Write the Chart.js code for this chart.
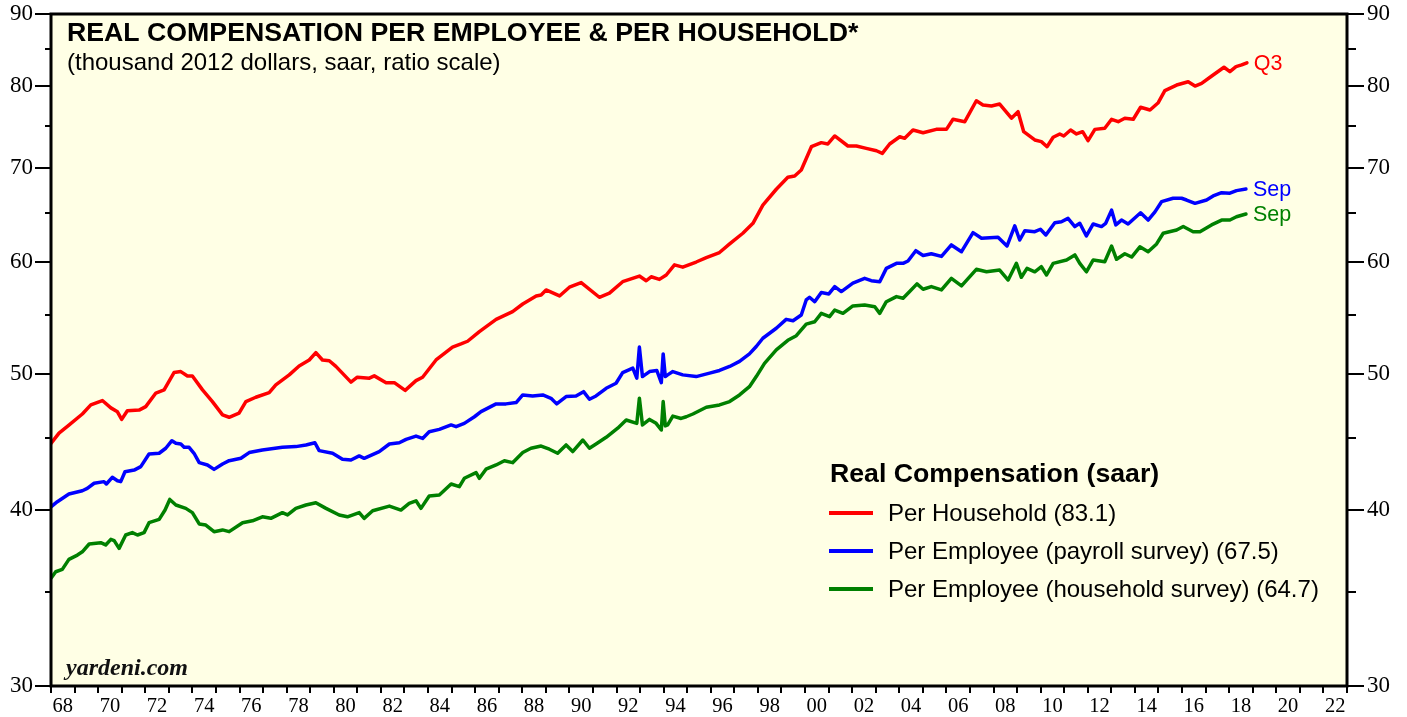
<!DOCTYPE html>
<html>
<head>
<meta charset="utf-8">
<title>Real Compensation per Employee & per Household</title>
<script src="https://cdn.jsdelivr.net/npm/chart.js@4.4.0/dist/chart.umd.min.js"></script>
<style>
  body { margin: 0; background: #fff; }
  #wrap { width: 1407px; height: 717px; }
</style>
</head>
<body>
<div id="wrap"><canvas id="chart" width="1407" height="717"></canvas></div>
<script>
// Per household, quarterly (thousand 2012 dollars)
const redYears = [1968.0, 1968.34, 1968.76, 1969.33, 1969.69, 1970.18, 1970.54, 1970.82, 1971.0, 1971.24, 1971.74, 1972.02, 1972.45, 1972.8, 1973.22, 1973.51, 1973.79, 1974.0, 1974.43, 1974.85, 1975.28, 1975.56, 1975.98, 1976.27, 1976.69, 1977.26, 1977.54, 1978.11, 1978.53, 1978.96, 1979.24, 1979.52, 1979.81, 1980.09, 1980.73, 1981.0, 1981.51, 1981.72, 1982.22, 1982.57, 1983.03, 1983.49, 1983.77, 1984.34, 1985.04, 1985.4, 1985.68, 1986.18, 1986.89, 1987.59, 1988.02, 1988.59, 1988.8, 1989.01, 1989.58, 1990.0, 1990.5, 1991.27, 1991.7, 1992.26, 1992.97, 1993.26, 1993.47, 1993.82, 1994.11, 1994.46, 1994.81, 1995.38, 1995.81, 1996.37, 1996.8, 1997.36, 1997.79, 1998.21, 1998.78, 1999.27, 1999.56, 1999.84, 2000.27, 2000.69, 2000.97, 2001.26, 2001.82, 2002.18, 2002.6, 2003.03, 2003.28, 2003.59, 2004.02, 2004.23, 2004.58, 2005.01, 2005.57, 2006.0, 2006.28, 2006.78, 2007.27, 2007.55, 2007.91, 2008.26, 2008.76, 2009.04, 2009.28, 2009.75, 2010.03, 2010.27, 2010.53, 2010.81, 2010.98, 2011.27, 2011.52, 2011.78, 2012.01, 2012.3, 2012.72, 2013.01, 2013.29, 2013.57, 2013.93, 2014.24, 2014.64, 2014.99, 2015.27, 2015.77, 2016.26, 2016.55, 2016.83, 2017.26, 2017.78, 2018.03, 2018.29, 2018.53, 2018.75];
const redValues = [44.61, 45.36, 45.96, 46.8, 47.5, 47.84, 47.27, 46.97, 46.39, 47.05, 47.1, 47.37, 48.43, 48.68, 50.08, 50.16, 49.8, 49.8, 48.68, 47.76, 46.73, 46.55, 46.86, 47.76, 48.1, 48.47, 49.08, 49.89, 50.62, 51.12, 51.74, 51.12, 51.06, 50.59, 49.3, 49.7, 49.62, 49.81, 49.26, 49.26, 48.64, 49.42, 49.7, 51.12, 52.21, 52.48, 52.71, 53.55, 54.63, 55.33, 56.02, 56.76, 56.85, 57.32, 56.76, 57.58, 58.02, 56.64, 57.02, 58.1, 58.64, 58.19, 58.57, 58.32, 58.74, 59.72, 59.5, 60.0, 60.43, 60.94, 61.8, 62.89, 63.92, 65.85, 67.58, 68.91, 69.06, 69.74, 72.45, 72.93, 72.77, 73.73, 72.53, 72.53, 72.25, 71.97, 71.66, 72.77, 73.64, 73.45, 74.45, 74.12, 74.53, 74.53, 75.77, 75.47, 78.1, 77.56, 77.43, 77.68, 75.9, 76.72, 74.25, 73.25, 73.05, 72.45, 73.57, 73.97, 73.73, 74.45, 73.97, 74.25, 73.17, 74.53, 74.66, 75.77, 75.47, 75.9, 75.77, 77.27, 76.93, 77.85, 79.41, 80.13, 80.57, 80.0, 80.36, 81.33, 82.5, 81.91, 82.58, 82.81, 83.1];

// Per employee, payroll survey, monthly
const blueYears = [1968.0, 1968.27, 1968.76, 1969.33, 1969.54, 1969.83, 1970.25, 1970.35, 1970.6, 1970.82, 1970.96, 1971.14, 1971.53, 1971.81, 1972.16, 1972.59, 1972.87, 1973.13, 1973.3, 1973.51, 1973.65, 1973.86, 1974.07, 1974.29, 1974.64, 1974.92, 1975.28, 1975.56, 1976.06, 1976.41, 1976.97, 1977.82, 1978.39, 1978.82, 1979.2, 1979.38, 1979.95, 1980.37, 1980.73, 1981.08, 1981.29, 1981.93, 1982.36, 1982.78, 1983.07, 1983.49, 1983.77, 1984.05, 1984.48, 1984.98, 1985.19, 1985.54, 1985.97, 1986.25, 1986.89, 1987.31, 1987.74, 1988.02, 1988.44, 1988.87, 1989.22, 1989.46, 1989.86, 1990.28, 1990.6, 1990.85, 1991.13, 1991.56, 1991.98, 1992.26, 1992.69, 1992.86, 1992.97, 1993.1, 1993.4, 1993.71, 1993.9, 1993.98, 1994.07, 1994.17, 1994.39, 1994.81, 1995.38, 1995.95, 1996.37, 1996.8, 1997.22, 1997.64, 1997.93, 1998.21, 1998.78, 1999.2, 1999.49, 1999.84, 2000.05, 2000.19, 2000.41, 2000.69, 2001.01, 2001.26, 2001.54, 2002.03, 2002.53, 2002.81, 2003.17, 2003.45, 2003.88, 2004.16, 2004.37, 2004.7, 2005.01, 2005.36, 2005.79, 2006.21, 2006.64, 2007.13, 2007.49, 2008.19, 2008.57, 2008.9, 2009.11, 2009.33, 2009.75, 2009.99, 2010.22, 2010.6, 2010.88, 2011.16, 2011.45, 2011.66, 2011.94, 2012.23, 2012.58, 2012.76, 2013.01, 2013.19, 2013.43, 2013.71, 2014.24, 2014.56, 2014.85, 2015.13, 2015.62, 2015.98, 2016.19, 2016.55, 2017.04, 2017.32, 2017.68, 2018.03, 2018.31, 2018.71];
const blueValues = [40.21, 40.55, 41.06, 41.28, 41.44, 41.79, 41.9, 41.74, 42.2, 41.96, 41.9, 42.58, 42.7, 42.94, 43.84, 43.89, 44.25, 44.8, 44.61, 44.56, 44.32, 44.32, 43.89, 43.22, 43.06, 42.75, 43.13, 43.36, 43.53, 43.94, 44.13, 44.32, 44.37, 44.49, 44.65, 44.08, 43.89, 43.46, 43.41, 43.7, 43.53, 44.01, 44.56, 44.65, 44.9, 45.14, 44.97, 45.46, 45.64, 45.97, 45.84, 46.09, 46.59, 46.98, 47.58, 47.58, 47.68, 48.28, 48.2, 48.28, 48.02, 47.58, 48.15, 48.2, 48.54, 47.94, 48.2, 48.81, 49.21, 50.08, 50.44, 49.62, 52.21, 49.75, 50.16, 50.25, 49.26, 51.63, 49.75, 49.89, 50.16, 49.89, 49.75, 50.03, 50.25, 50.58, 51.0, 51.63, 52.26, 52.97, 53.84, 54.63, 54.51, 55.02, 56.39, 56.64, 56.23, 57.08, 56.95, 57.64, 57.17, 57.96, 58.42, 58.2, 58.1, 59.38, 59.87, 59.87, 60.1, 61.12, 60.64, 60.82, 60.55, 61.7, 61.02, 62.95, 62.37, 62.48, 61.59, 63.65, 62.2, 63.15, 63.05, 63.3, 62.71, 63.98, 64.08, 64.44, 63.58, 63.92, 62.61, 63.85, 63.58, 63.92, 65.31, 63.75, 64.26, 63.85, 65.03, 64.26, 65.13, 66.22, 66.59, 66.59, 66.4, 66.04, 66.4, 66.84, 67.2, 67.14, 67.43, 67.6];

// Per employee, household survey, monthly
const greenYears = [1968.0, 1968.2, 1968.48, 1968.76, 1969.12, 1969.33, 1969.62, 1970.11, 1970.32, 1970.54, 1970.68, 1970.89, 1971.17, 1971.45, 1971.67, 1971.95, 1972.16, 1972.59, 1972.84, 1973.04, 1973.3, 1973.72, 1974.0, 1974.29, 1974.57, 1974.92, 1975.28, 1975.56, 1976.13, 1976.55, 1976.97, 1977.33, 1977.82, 1978.04, 1978.39, 1978.82, 1979.24, 1979.67, 1980.23, 1980.58, 1981.08, 1981.29, 1981.65, 1982.36, 1982.85, 1983.2, 1983.49, 1983.7, 1984.05, 1984.48, 1984.98, 1985.33, 1985.54, 1986.04, 1986.18, 1986.46, 1986.89, 1987.24, 1987.59, 1988.02, 1988.37, 1988.8, 1989.15, 1989.5, 1989.86, 1990.14, 1990.57, 1990.85, 1991.13, 1991.56, 1992.05, 1992.41, 1992.86, 1992.97, 1993.1, 1993.4, 1993.68, 1993.9, 1993.98, 1994.07, 1994.17, 1994.39, 1994.74, 1994.96, 1995.24, 1995.81, 1996.37, 1996.8, 1997.22, 1997.64, 1997.93, 1998.28, 1998.78, 1999.27, 1999.63, 2000.05, 2000.41, 2000.69, 2001.04, 2001.26, 2001.61, 2002.03, 2002.53, 2002.96, 2003.17, 2003.45, 2003.88, 2004.16, 2004.44, 2004.75, 2005.01, 2005.36, 2005.79, 2006.21, 2006.64, 2007.27, 2007.7, 2008.26, 2008.62, 2008.97, 2009.18, 2009.42, 2009.75, 2010.03, 2010.25, 2010.53, 2011.1, 2011.45, 2011.66, 2011.94, 2012.23, 2012.72, 2013.01, 2013.22, 2013.57, 2013.86, 2014.21, 2014.56, 2014.92, 2015.2, 2015.77, 2016.05, 2016.47, 2016.76, 2017.25, 2017.68, 2018.03, 2018.31, 2018.71];
const greenValues = [35.78, 36.16, 36.3, 36.9, 37.16, 37.36, 37.84, 37.92, 37.78, 38.13, 38.05, 37.57, 38.4, 38.55, 38.4, 38.55, 39.18, 39.39, 40.0, 40.7, 40.33, 40.11, 39.83, 39.1, 39.03, 38.61, 38.72, 38.61, 39.18, 39.3, 39.56, 39.46, 39.83, 39.68, 40.11, 40.33, 40.48, 40.11, 39.68, 39.56, 39.83, 39.46, 39.95, 40.26, 40.0, 40.44, 40.61, 40.11, 40.93, 41.0, 41.74, 41.56, 42.13, 42.52, 42.13, 42.76, 43.06, 43.36, 43.22, 43.94, 44.25, 44.41, 44.18, 43.89, 44.49, 44.01, 44.85, 44.25, 44.56, 45.05, 45.73, 46.34, 46.09, 48.02, 45.97, 46.39, 46.09, 45.59, 47.76, 45.9, 45.97, 46.64, 46.46, 46.59, 46.8, 47.32, 47.5, 47.76, 48.28, 48.94, 49.75, 50.84, 51.97, 52.79, 53.19, 54.21, 54.42, 55.17, 54.87, 55.47, 55.17, 55.84, 55.93, 55.77, 55.17, 56.23, 56.7, 56.55, 57.17, 57.89, 57.39, 57.64, 57.32, 58.42, 57.7, 59.29, 59.05, 59.22, 58.26, 59.87, 58.52, 59.38, 59.05, 59.54, 58.74, 59.87, 60.2, 60.7, 59.87, 59.05, 60.2, 60.03, 61.59, 60.27, 60.82, 60.49, 61.51, 61.02, 61.8, 62.89, 63.23, 63.58, 63.05, 63.05, 63.75, 64.26, 64.26, 64.61, 64.9];

const seriesNames = ["Per Household (83.1)", "Per Employee (payroll survey) (67.5)", "Per Employee (household survey) (64.7)"];
const endLabels = ["Q3", "Sep", "Sep"];
const seriesColors = ["#ff0000", "#0000ff", "#008000"];

const yMajorTicks = [30, 40, 50, 60, 70, 80, 90];
const yMinorTicks = [35, 45, 55, 65, 75, 85];
const xLabelYears = [];
for (let yr = 1968; yr <= 2022; yr += 2) xLabelYears.push(yr);

const titleText = "REAL COMPENSATION PER EMPLOYEE & PER HOUSEHOLD*";
const subtitleText = "(thousand 2012 dollars, saar, ratio scale)";
const legendTitle = "Real Compensation (saar)";

const SANS = "'Liberation Sans', Arial, sans-serif";
const SERIF = "'Liberation Serif', 'Times New Roman', serif";

function toPoints(xs, ys) {
  return xs.map((x, i) => ({ x: x, y: ys[i] }));
}

// no extra room for the half-height of the end tick labels
function noLabelPadding(scale) {
  scale.paddingTop = 0;
  scale.paddingBottom = 0;
  scale.paddingLeft = 0;
  scale.paddingRight = 0;
}

// yellow plot background
const plotBackground = {
  id: "plotBackground",
  beforeDraw(chart) {
    const { ctx, chartArea: a } = chart;
    ctx.save();
    ctx.fillStyle = "#ffffe5";
    ctx.fillRect(a.left, a.top, a.right - a.left, a.bottom - a.top);
    ctx.restore();
  },
};

// frame, tick marks, texts, legend
const decorations = {
  id: "decorations",
  afterDraw(chart) {
    const { ctx, chartArea: a, scales } = chart;
    ctx.save();

    // tick marks
    ctx.strokeStyle = "#000";
    ctx.lineWidth = 2;
    ctx.beginPath();
    yMajorTicks.concat(yMinorTicks).forEach((v) => {
      const y = Math.round(scales.y.getPixelForValue(v));
      const major = yMajorTicks.includes(v);
      ctx.moveTo(a.left - (major ? 16 : 6), y);
      ctx.lineTo(a.left, y);
      ctx.moveTo(a.right, y);
      ctx.lineTo(a.right + (major ? 17 : 9), y);
    });
    for (let yr = 1968; yr <= 2023; yr++) {
      const x = Math.round(scales.x.getPixelForValue(yr));
      ctx.moveTo(x, a.bottom);
      ctx.lineTo(x, a.bottom + 7);
    }
    ctx.stroke();

    // frame
    ctx.lineWidth = 3;
    ctx.strokeRect(a.left, a.top, a.right - a.left, a.bottom - a.top);

    // titles
    ctx.fillStyle = "#000";
    ctx.textAlign = "left";
    ctx.textBaseline = "middle";
    ctx.font = "bold 26.7px " + SANS;
    ctx.fillText(titleText, 67, 34);
    ctx.font = "24px " + SANS;
    ctx.fillText(subtitleText, 67, 63);

    // watermark
    ctx.font = "italic bold 24px " + SERIF;
    ctx.fillStyle = "#111";
    ctx.fillText("yardeni.com", 66, 669);

    // end labels
    ctx.font = "21.5px " + SANS;
    chart.data.datasets.forEach((ds, i) => {
      const pts = chart.getDatasetMeta(i).data;
      const last = pts[pts.length - 1];
      ctx.fillStyle = seriesColors[i];
      ctx.fillText(endLabels[i], last.x + 7, last.y + 1);
    });

    // legend
    ctx.fillStyle = "#000";
    ctx.font = "bold 26.7px " + SANS;
    ctx.fillText(legendTitle, 830, 475);
    ctx.font = "24px " + SANS;
    seriesNames.forEach((name, i) => {
      const y = 513 + i * 38;
      ctx.strokeStyle = seriesColors[i];
      ctx.lineWidth = 4;
      ctx.beginPath();
      ctx.moveTo(829, y);
      ctx.lineTo(873, y);
      ctx.stroke();
      ctx.fillStyle = "#000";
      ctx.fillText(name, 888, y + 1);
    });

    ctx.restore();
  },
};

const logAxis = (position, width, padding) => ({
  type: "logarithmic",
  position: position,
  min: 30,
  max: 90,
  afterBuildTicks: (scale) => {
    scale.ticks = yMajorTicks.map((v) => ({ value: v }));
  },
  afterFit: (scale) => {
    scale.width = width;
    noLabelPadding(scale);
  },
  ticks: {
    autoSkip: false,
    padding: padding,
    color: "#000",
    font: { family: SERIF, size: 23 },
    callback: (v) => String(v),
  },
  grid: { display: false, drawTicks: false },
  border: { display: false },
});

const ctx = document.getElementById("chart").getContext("2d");
const chart = new Chart(ctx, {
  type: "line",
  data: {
    datasets: [
      { label: seriesNames[0], data: toPoints(redYears, redValues), borderColor: seriesColors[0] },
      { label: seriesNames[1], data: toPoints(blueYears, blueValues), borderColor: seriesColors[1] },
      { label: seriesNames[2], data: toPoints(greenYears, greenValues), borderColor: seriesColors[2] },
    ],
  },
  options: {
    responsive: false,
    animation: false,
    devicePixelRatio: 1,
    layout: { padding: { top: 14, left: 0, right: 0, bottom: 0 } },
    elements: {
      line: { borderWidth: 3.5, tension: 0, borderCapStyle: "round", borderJoinStyle: "round" },
      point: { radius: 0, hoverRadius: 0 },
    },
    plugins: {
      legend: { display: false },
      tooltip: { enabled: false },
      title: { display: false },
    },
    scales: {
      x: {
        type: "linear",
        min: 1968,
        max: 2023,
        afterBuildTicks: (scale) => {
          scale.ticks = xLabelYears.map((yr) => ({ value: yr + 0.5 }));
        },
        afterFit: (scale) => {
          scale.height = 31;
          noLabelPadding(scale);
        },
        ticks: {
          autoSkip: false,
          maxRotation: 0,
          padding: 8,
          color: "#000",
          font: { family: SERIF, size: 20.5 },
          callback: (v) => String(Math.floor(v) % 100).padStart(2, "0"),
        },
        grid: { display: false, drawTicks: false },
        border: { display: false },
      },
      y: logAxis("left", 51, 18),
      y2: logAxis("right", 60, 20),
    },
  },
  plugins: [plotBackground, decorations],
});
</script>
</body>
</html>
